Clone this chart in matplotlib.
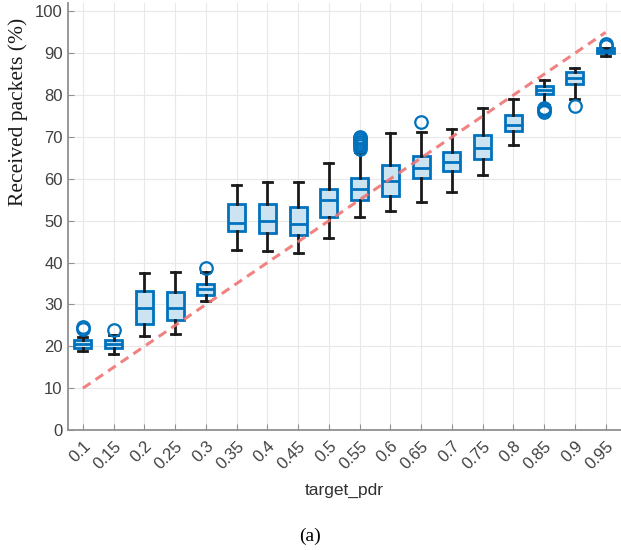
import matplotlib.pyplot as plt

# target_pdr categories
targets = ['0.1', '0.15', '0.2', '0.25', '0.3', '0.35', '0.4', '0.45', '0.5',
           '0.55', '0.6', '0.65', '0.7', '0.75', '0.8', '0.85', '0.9', '0.95']

# box statistics (received packets, %)
q1 = [19.6, 19.5, 25.4, 26.4, 32.2, 47.6, 47.0, 46.5, 51.0,
      54.9, 56.0, 60.3, 61.8, 64.7, 71.4, 80.3, 82.7, 90.1]
med = [20.5, 20.6, 29.1, 29.1, 33.6, 49.4, 50.0, 49.2, 54.9,
       57.6, 59.4, 62.7, 64.0, 67.3, 72.9, 81.3, 84.1, 90.6]
q3 = [21.4, 21.6, 33.3, 32.9, 34.8, 54.0, 54.0, 53.4, 57.7,
      60.1, 63.3, 65.4, 66.5, 70.5, 75.3, 82.3, 85.5, 91.3]
wlo = [18.8, 18.2, 22.5, 22.9, 30.8, 43.0, 42.8, 42.4, 45.9,
       51.0, 52.4, 54.5, 56.8, 61.0, 68.2, 77.7, 79.1, 89.4]
whi = [22.3, 22.8, 37.6, 37.7, 37.7, 58.6, 59.2, 59.3, 63.7,
       66.5, 71.0, 71.3, 71.8, 76.9, 79.0, 83.6, 86.5, 91.3]
outliers = [[24.1, 24.7], [23.8], [], [], [38.7], [], [], [], [],
            [67.2, 67.8, 68.3, 68.8, 69.3, 69.8, 70.1], [], [73.5], [], [], [],
            [76.0, 76.4, 76.8, 77.0], [77.5], [91.8, 92.2]]

# dashed ideal line (received = target)
ideal = [10, 15, 20, 25, 30, 35, 40, 45, 50, 55, 60, 65, 70, 75, 80, 85, 90, 95]

blue = '#0072BD'
pos = list(range(1, len(targets) + 1))

stats = []
for i in range(len(targets)):
    stats.append({'q1': q1[i], 'med': med[i], 'q3': q3[i],
                  'whislo': wlo[i], 'whishi': whi[i], 'fliers': outliers[i]})

fig = plt.figure(figsize=(6.21, 5.5), dpi=100)
ax = fig.add_axes([0.1087, 0.218, 0.8913, 0.7765])

ax.grid(True, color='#e8e8e8', linewidth=0.8, zorder=0)
ax.set_axisbelow(True)

ax.bxp(stats, positions=pos, widths=0.56, capwidths=0.3, patch_artist=True,
       boxprops=dict(facecolor='#cce3f2', edgecolor=blue, linewidth=2.0),
       medianprops=dict(color=blue, linewidth=2.0),
       whiskerprops=dict(color='#1a1a1a', linewidth=2.0),
       capprops=dict(color='#1a1a1a', linewidth=2.0),
       flierprops=dict(marker='o', markerfacecolor='none', markeredgecolor=blue,
                       markeredgewidth=1.6, markersize=9))

ax.plot(pos, ideal, linestyle=(0, (3, 2)), color='#f07575', linewidth=2.2,
        alpha=0.9, zorder=5)

ax.set_xlim(0.5, 18.5)
ax.set_ylim(0, 102)
ax.set_yticks(range(0, 101, 10))
ax.set_xticks(pos)
ax.set_xticklabels(targets, rotation=45, ha='right', rotation_mode='anchor')

for sp in ['top', 'right']:
    ax.spines[sp].set_visible(False)
for sp in ['left', 'bottom']:
    ax.spines[sp].set_color('#909090')
    ax.spines[sp].set_linewidth(1.3)

ax.tick_params(direction='in', length=4, color='#909090', labelcolor='#404040',
               labelsize=12)
ax.tick_params(axis='x', pad=6)
for lbl in ax.get_xticklabels() + ax.get_yticklabels():
    lbl.set_family('Liberation Sans')

ax.set_xlabel('target_pdr', family='Liberation Sans', fontsize=12.5,
              color='#303030', labelpad=8)
ax.set_ylabel('Received packets (%)', family='Liberation Serif', fontsize=15.5,
              color='#1a1a1a')
ax.yaxis.set_label_coords(-0.072, 0.745)

fig.text(0.5, 0.025, '(a)', family='Liberation Serif', fontsize=14,
         ha='center', va='center')

fig.savefig('out.png', dpi=100)
